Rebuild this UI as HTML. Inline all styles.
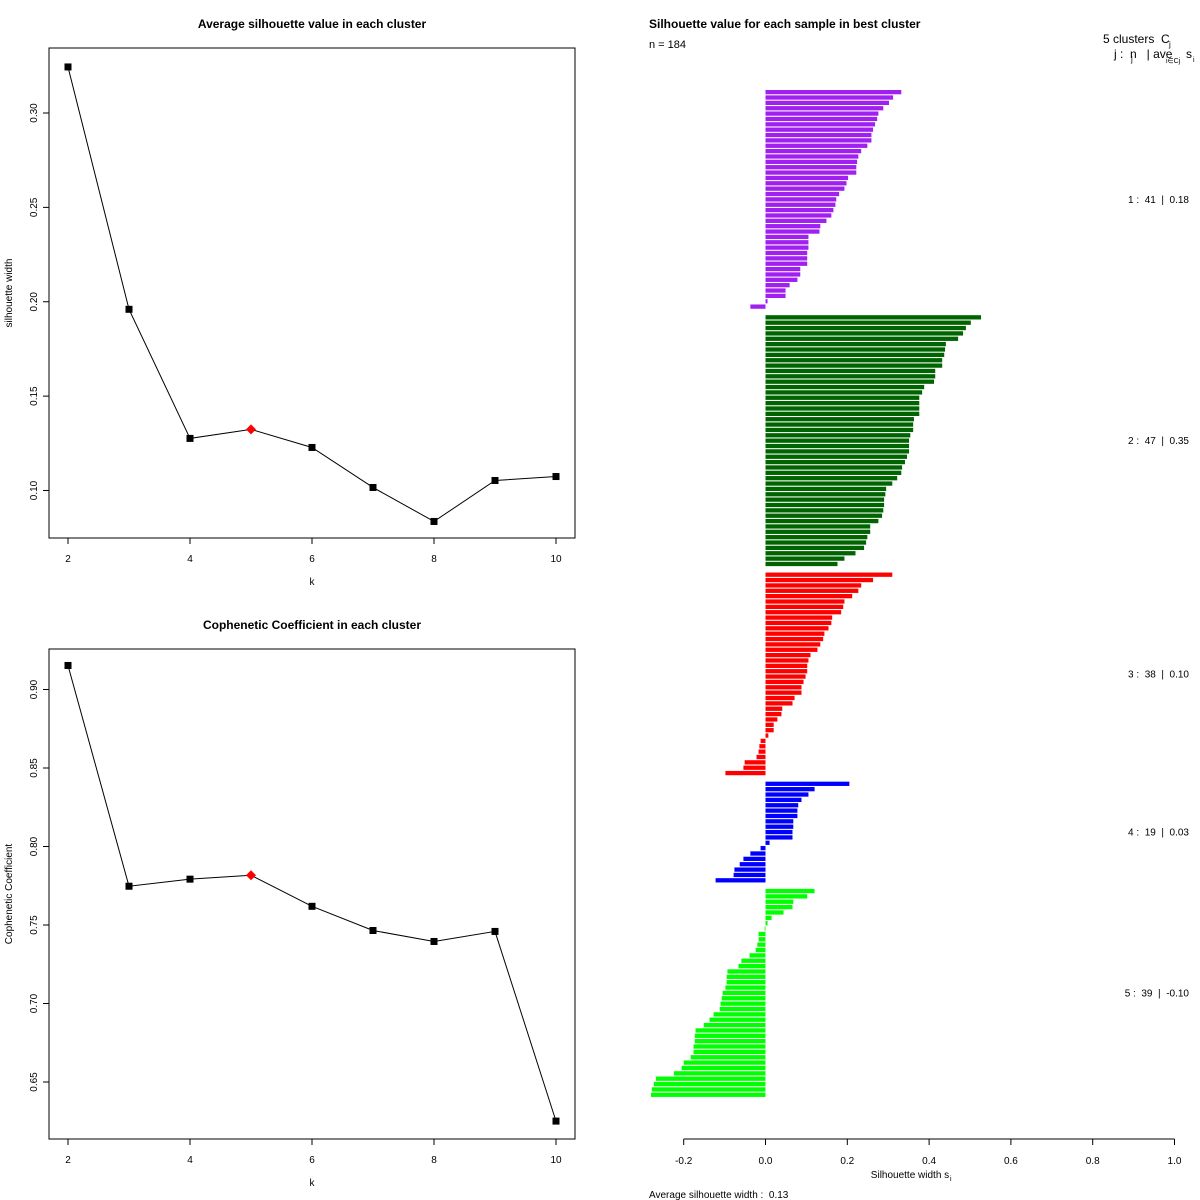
<!DOCTYPE html>
<html><head><meta charset="utf-8"><style>
body{margin:0;background:#fff}
svg{display:block;font-family:"Liberation Sans",Arial,sans-serif}
text{white-space:pre}
</style></head><body>
<svg id="chart" width="1200" height="1200" viewBox="0 0 1200 1200" xmlns="http://www.w3.org/2000/svg">
<rect width="1200" height="1200" fill="#fff"/>
<g id="p1"></g>
<g id="p2"></g>
<g id="p3"></g>
</svg>
<script>
const ks = [2,3,4,5,6,7,8,9,10];
const silAvg = [0.3244,0.196,0.1276,0.1324,0.1228,0.1016,0.0836,0.1053,0.1074];
const coph = [0.9153,0.7747,0.7792,0.7817,0.7619,0.7465,0.7395,0.7459,0.6251];
const bestK = 5;
const silTicks = [0.10,0.15,0.20,0.25,0.30];
const cophTicks = [0.65,0.70,0.75,0.80,0.85,0.90];
const kTicks = [2,4,6,8,10];

const clusterNames = ["1","2","3","4","5"];
const clusterSizes = [41,47,38,19,39];
const clusterAvgs = ["0.18","0.35","0.10","0.03","-0.10"];
const clusterColors = ["#A020F0","#006400","#FF0000","#0000FF","#00FF00"];
const c1 = [.332,.312,.302,.288,.276,.273,.268,.263,.259,.259,.249,.234,.227,.224,.222,.222,.202,.198,.193,.180,.173,.171,.166,.161,.149,.134,.132,.105,.105,.105,.102,.102,.102,.085,.085,.078,.059,.049,.049,.005,-.037];
const c2 = [.527,.502,.490,.483,.471,.441,.439,.437,.432,.432,.415,.415,.412,.388,.383,.376,.376,.376,.376,.363,.361,.361,.354,.351,.351,.351,.346,.341,.334,.332,.322,.310,.295,.293,.290,.290,.288,.285,.276,.256,.256,.249,.246,.241,.220,.193,.176];
const c3 = [.310,.263,.234,.227,.212,.193,.190,.185,.163,.161,.154,.144,.141,.134,.127,.110,.105,.102,.102,.098,.093,.088,.088,.071,.066,.041,.039,.029,.020,.020,.007,-.012,-.015,-.017,-.022,-.051,-.054,-.098];
const c4 = [.205,.120,.105,.088,.080,.078,.078,.068,.068,.066,.066,.010,-.012,-.037,-.054,-.063,-.076,-.078,-.122];
const c5 = [.120,.102,.068,.066,.044,.015,.005,-.002,-.017,-.017,-.020,-.024,-.039,-.059,-.066,-.093,-.095,-.095,-.098,-.105,-.107,-.110,-.112,-.127,-.137,-.151,-.171,-.173,-.173,-.176,-.176,-.183,-.200,-.205,-.224,-.268,-.273,-.278,-.280];
const silX = [-0.2,0.0,0.2,0.4,0.6,0.8,1.0];
const silXLabels = ["-0.2","0.0","0.2","0.4","0.6","0.8","1.0"];
const nTotal = 184;
const avgWidth = "0.13";

const NS="http://www.w3.org/2000/svg";
function mk(parent,tag,attrs,text){const e=document.createElementNS(NS,tag);for(const k in attrs)e.setAttribute(k,attrs[k]);if(text!==undefined)e.textContent=text;parent.appendChild(e);return e;}

function linePanel(g,top,vals,yTicks,y0,y1,title,ylab,nameBase){
  const L=49,R=575,T=top,B=top+490;
  const xs=k=>68+(k-2)*61;
  const ys=v=>y1.py+(v-y1.v)*(y0.py-y1.py)/(y0.v-y1.v);
  let e=mk(g,'rect',{x:L,y:T,width:R-L,height:B-T,fill:'none',stroke:'#000','stroke-width':1});
  
  e=mk(g,'text',{x:312,y:T-20,'text-anchor':'middle','font-size':12,'font-weight':'bold'},title);
  
  kTicks.forEach(k=>{
    e=mk(g,'line',{x1:xs(k),x2:xs(k),y1:B,y2:B+6,stroke:'#000'});
    
    e=mk(g,'text',{x:xs(k),y:B+24,'text-anchor':'middle','font-size':10},String(k));
    
  });
  yTicks.forEach(v=>{
    const y=ys(v);
    e=mk(g,'line',{x1:L-6,x2:L,y1:y,y2:y,stroke:'#000'});
    
    e=mk(g,'text',{x:37,y:y,'text-anchor':'middle','font-size':10,transform:`rotate(-90 37 ${y})`},v.toFixed(2));
    
  });
  e=mk(g,'text',{x:312,y:B+47,'text-anchor':'middle','font-size':10},'k');
  
  const my=(T+B)/2;
  e=mk(g,'text',{x:12,y:my,'text-anchor':'middle','font-size':10,transform:`rotate(-90 12 ${my})`},ylab);
  
  const pts=ks.map((k,i)=>xs(k)+','+ys(vals[i])).join(' ');
  e=mk(g,'polyline',{points:pts,fill:'none',stroke:'#000','stroke-width':1});
  
  ks.forEach((k,i)=>{
    const x=xs(k),y=ys(vals[i]);
    if(k===bestK){
      e=mk(g,'polygon',{points:`${x},${y-5} ${x+5},${y} ${x},${y+5} ${x-5},${y}`,fill:'#f00'});
      
    } else {
      e=mk(g,'rect',{x:x-3.5,y:y-3.5,width:7,height:7,fill:'#000'});
      
    }
  });
}
linePanel(document.getElementById('p1'),48,silAvg,silTicks,{v:0.10,py:490.5},{v:0.30,py:113},'Average silhouette value in each cluster','silhouette width','avg-silhouette');
linePanel(document.getElementById('p2'),649,coph,cophTicks,{v:0.65,py:1082},{v:0.90,py:689.5},'Cophenetic Coefficient in each cluster','Cophenetic Coefficient','cophenetic');

const g3=document.getElementById('p3');
const sx=v=>765.5+v*409;
const unit=(1098-90)/188, top0=90;
let e;
e=mk(g3,'text',{x:649,y:28,'font-size':12,'font-weight':'bold'},'Silhouette value for each sample in best cluster');

e=mk(g3,'text',{x:649,y:48,'font-size':11},'n = '+nTotal);

e=mk(g3,'text',{x:1103,y:43,'font-size':12},'5 clusters  C');

mk(g3,'text',{x:1169,y:47,'font-size':8},'j');
e=mk(g3,'text',{x:1114,y:58,'font-size':12},'j :  n   | ave');

mk(g3,'text',{x:1131,y:62,'font-size':8},'j');
mk(g3,'text',{x:1166,y:63,'font-size':7},'i∈Cj');
mk(g3,'text',{x:1186,y:58,'font-size':12},'s');
mk(g3,'text',{x:1193,y:62,'font-size':7},'i');
const clusters=[c1,c2,c3,c4,c5];
let pos=0;
clusters.forEach((c,ci)=>{
  const start=pos;
  c.forEach(v=>{
    const y=top0+pos*unit;
    const x0=Math.min(sx(0),sx(v)),w=Math.max(Math.abs(sx(v)-sx(0)),0.8);
    e=mk(g3,'rect',{x:x0,y:y,width:w,height:unit*0.8,fill:clusterColors[ci]});
    
    
    pos++;
  });
  const cy=top0+(start+c.length/2)*unit+3;
  e=mk(g3,'text',{x:1189,y:cy,'text-anchor':'end','font-size':10},clusterNames[ci]+' :  '+clusterSizes[ci]+'  |  '+clusterAvgs[ci]);
  
  pos++;
});
e=mk(g3,'line',{x1:sx(-0.2),x2:sx(1.0),y1:1139,y2:1139,stroke:'#000'});

silX.forEach((v,i)=>{
  e=mk(g3,'line',{x1:sx(v),x2:sx(v),y1:1139,y2:1145,stroke:'#000'});
  
  e=mk(g3,'text',{x:sx(v),y:1164,'text-anchor':'middle','font-size':10},silXLabels[i]);
  
});
e=mk(g3,'text',{x:910,y:1178,'text-anchor':'middle','font-size':10},'Silhouette width s');

mk(g3,'text',{x:950,y:1181,'font-size':7},'i');
e=mk(g3,'text',{x:649,y:1198,'font-size':10},'Average silhouette width :  '+avgWidth);

</script>
</body></html>
